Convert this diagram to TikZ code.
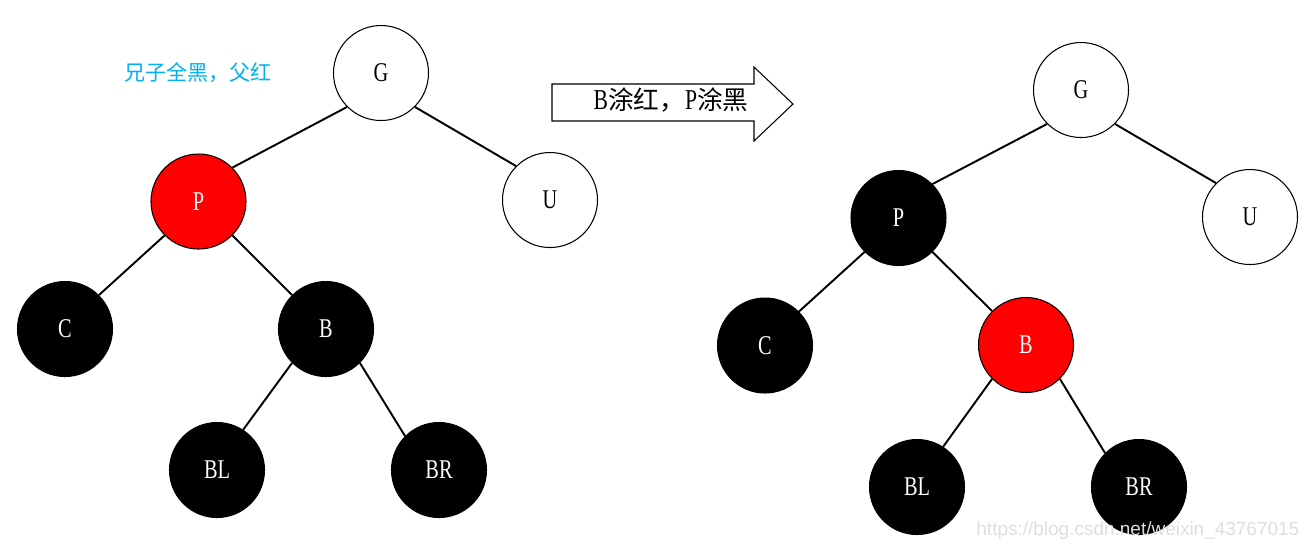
\documentclass[tikz,border=0pt]{standalone}
\usepackage{fontspec}
\usepackage{xcolor}
\usepackage{tikz}
\usetikzlibrary{shapes}
\newfontfamily\nodefont[FakeStretch=0.75]{Liberation Serif}
\newfontfamily\cjk{Noto Sans CJK SC}
\newfontfamily\markfont{Liberation Sans}
\definecolor{noteblue}{RGB}{0,176,240}
\definecolor{markgray}{RGB}{222,222,222}

\begin{document}
\begin{tikzpicture}[-, white node/.style={circle, draw, minimum size=0.95cm, inner sep=0pt, line width=0.3pt, font=\nodefont\fontsize{7.7}{8}\selectfont}, black node/.style={white node, fill=black, text=white}, red node/.style={white node, fill=red, text=white}]
\useasboundingbox (0,0) rectangle (13.1,-5.5);
% before
\node[white node] (G) at (3.81,-0.73) {G};
\node[red node] (P) at (1.985,-2.015) {P};
\node[white node] (U) at (5.50,-2.00) {U};
\node[black node] (C) at (0.65,-3.29) {C};
\node[black node] (B) at (3.26,-3.29) {B};
\node[black node] (BL) at (2.17,-4.70) {BL};
\node[black node] (BR) at (4.39,-4.70) {BR};
\node[text=noteblue, font=\cjk\fontsize{6}{7}\selectfont] (note) at (1.98,-0.73) {兄子全黑，父红};
% after
\node[white node] (G2) at (10.81,-0.90) {G};
\node[black node] (P2) at (8.985,-2.18) {P};
\node[white node] (U2) at (12.50,-2.17) {U};
\node[black node] (C2) at (7.65,-3.455) {C};
\node[red node] (B2) at (10.26,-3.45) {B};
\node[black node] (BL2) at (9.17,-4.87) {BL};
\node[black node] (BR2) at (11.39,-4.87) {BR};
\path[line width=0.55pt]
(G.south west) edge (P.north east)
(G.south east) edge (U.north west)
(P.south west) edge (C.north east)
(P.south east) edge (B.north west)
(B.south west) edge (BL.57)
(B.south east) edge (BR.north west)
(G2.south west) edge (P2.north east)
(G2.south east) edge (U2.north west)
(P2.south west) edge (C2.north east)
(P2.south east) edge (B2.north west)
(B2.south west) edge (BL2.57)
(B2.south east) edge (BR2.north west);
% arrow
\draw[line width=0.3pt] (5.52,-0.84) -- (7.54,-0.84) -- (7.54,-0.67) -- (7.93,-1.04) -- (7.54,-1.41) -- (7.54,-1.21) -- (5.52,-1.21) -- cycle;
\node (step) at (6.71,-1.0) {{\nodefont\fontsize{8.2}{9}\selectfont B}{\cjk\fontsize{7.3}{8}\selectfont 涂红，}{\nodefont\fontsize{8.2}{9}\selectfont P}{\cjk\fontsize{7.3}{8}\selectfont 涂黑}};
\node[anchor=east, text=markgray, font=\markfont\fontsize{5.4}{6}\selectfont, inner sep=0pt] (mark) at (13.0,-5.31) {https://blog.csdn.net/weixin\_43767015};
\end{tikzpicture}
\end{document}
